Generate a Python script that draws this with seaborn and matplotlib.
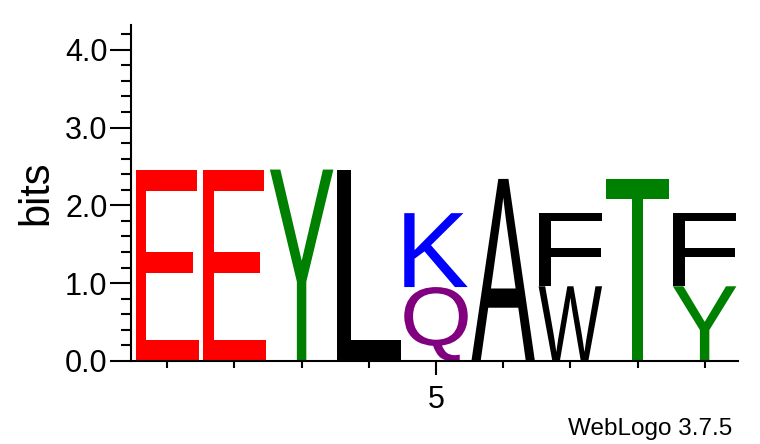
import matplotlib
matplotlib.use("Agg")
import matplotlib.pyplot as plt
import seaborn as sns
from matplotlib.textpath import TextPath
from matplotlib.patches import PathPatch
from matplotlib.font_manager import FontProperties
from matplotlib.transforms import Affine2D
from matplotlib.ticker import FixedLocator, MultipleLocator

# ── DATA ────────────────────────────────────────────────────
positions = [1, 2, 3, 4, 5, 6, 7, 8, 9]
# letters of each stack, listed bottom -> top
stack_letters = [["E"], ["E"], ["Y"], ["L"], ["Q", "K"], ["A"], ["W", "F"], ["T"], ["Y", "F"]]
stack_bits = [[2.46], [2.46], [2.46], [2.46], [0.95, 0.95], [2.34], [0.96, 0.94], [2.34], [0.96, 0.94]]
y_ticks = [0.0, 1.0, 2.0, 3.0, 4.0]
x_labelled = [5]

letter_colors = {
    "E": "#ff0000", "Y": "#008000", "T": "#008000", "L": "#000000",
    "K": "#0000ff", "Q": "#800080", "A": "#000000", "F": "#000000", "W": "#000000",
}

sns.set_theme(style="ticks")
plt.rcParams["font.family"] = ["Liberation Sans", "DejaVu Sans"]
plt.rcParams.update({"text.color": "black", "axes.labelcolor": "black",
                     "xtick.color": "black", "ytick.color": "black",
                     "axes.edgecolor": "black"})

FONT = FontProperties(family="Liberation Sans")
LETTER_W = 0.945


def draw_letter(ax, ch, x, y0, h, color):
    tp = TextPath((0, 0), ch, size=1, prop=FONT)
    bb = tp.get_extents()
    tr = (Affine2D().translate(-bb.x0, -bb.y0)
          .scale(LETTER_W / bb.width, h / bb.height)
          .translate(x - LETTER_W / 2, y0))
    ax.add_patch(PathPatch(tr.transform_path(tp), facecolor=color,
                           edgecolor="none", lw=0))


fig = plt.figure(figsize=(7.6, 4.44), dpi=100)
ax = fig.add_axes([0.1724, 0.187, 0.799, 0.757])

for x, letters, bits in zip(positions, stack_letters, stack_bits):
    base = 0.0
    for ch, h in zip(letters, bits):
        draw_letter(ax, ch, x, base, h, letter_colors[ch])
        base += h

ax.set_xlim(0.46, 9.5)
ax.set_ylim(0, 4.32)

sns.despine(ax=ax)
for side in ["left", "bottom"]:
    ax.spines[side].set_linewidth(1.5)
    ax.spines[side].set_color("black")

ax.set_yticks(y_ticks)
ax.set_yticklabels([f"{v:.1f}" for v in y_ticks])
ax.yaxis.set_minor_locator(MultipleLocator(0.2))
ax.tick_params(axis="y", which="major", length=15, width=1.5, direction="out",
               labelsize=22, pad=2, color="black", labelcolor="black")
ax.tick_params(axis="y", which="minor", length=7, width=1.5, direction="out", color="black")

ax.xaxis.set_major_locator(FixedLocator(x_labelled))
ax.set_xticklabels([str(v) for v in x_labelled])
ax.xaxis.set_minor_locator(FixedLocator([p for p in positions if p not in x_labelled]))
ax.tick_params(axis="x", which="major", length=10, width=1.5, direction="out",
               labelsize=22, pad=7, color="black", labelcolor="black")
ax.tick_params(axis="x", which="minor", length=5, width=1.5, direction="out", color="black")

ax.set_ylabel("bits", fontsize=30, labelpad=6, color="black")
ax.set_facecolor("white")

fig.text(0.964, 0.02, "WebLogo 3.7.5", fontsize=17.5, ha="right", va="baseline", color="black")

fig.savefig("out.png", dpi=100, facecolor="white")
